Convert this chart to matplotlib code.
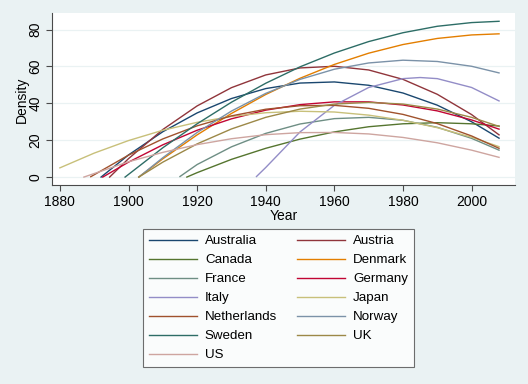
import matplotlib
matplotlib.use('Agg')
import matplotlib.pyplot as plt
from matplotlib.lines import Line2D

# quadratic-fit curves (year, density)
yr_australia = [1892, 1900, 1910, 1920, 1930, 1940, 1950, 1960, 1970, 1980, 1990, 2000, 2008]
d_australia = [0, 12, 24.6, 34.8, 42.6, 48, 51, 51.6, 49.8, 45.6, 39, 30, 21.1]

yr_austria = [1894.5, 1900, 1910, 1920, 1930, 1940, 1950, 1960, 1970, 1980, 1990, 2000, 2008]
d_austria = [0, 10, 25.8, 38.6, 48.5, 55.4, 59.2, 60.1, 58.1, 53, 44.9, 33.9, 22.9]

yr_canada = [1917, 1920, 1930, 1940, 1950, 1960, 1970, 1980, 1990, 2000, 2008]
d_canada = [0, 2.4, 9.6, 15.6, 20.6, 24.5, 27.3, 28.9, 29.5, 28.9, 27.7]

yr_denmark = [1903, 1910, 1920, 1930, 1940, 1950, 1960, 1970, 1980, 1990, 2000, 2008]
d_denmark = [0, 9.9, 22.9, 34.5, 44.8, 53.6, 61.1, 67.2, 71.9, 75.2, 77.1, 77.7]

yr_france = [1915, 1920, 1930, 1940, 1950, 1960, 1970, 1980, 1990, 2000, 2008]
d_france = [0.3, 6.8, 16.4, 23.7, 28.8, 31.7, 32.4, 30.8, 27, 21, 14.6]

yr_germany = [1892.5, 1900, 1910, 1920, 1930, 1940, 1950, 1960, 1970, 1980, 1990, 2000, 2008]
d_germany = [0, 8.1, 17.5, 25.4, 31.6, 36.3, 39.3, 40.8, 40.8, 39.1, 35.9, 31, 26]

yr_italy = [1937.3, 1940, 1950, 1960, 1970, 1980, 1985, 1990, 2000, 2008]
d_italy = [0.3, 5.2, 24.5, 38.9, 48.6, 53.4, 54, 53.4, 48.6, 41.3]

yr_japan = [1880, 1890, 1900, 1910, 1920, 1930, 1940, 1950, 1960, 1970, 1980, 1990, 2000, 2008]
d_japan = [5, 13, 19.8, 25.4, 29.7, 32.9, 34.9, 35.7, 35.3, 33.6, 30.8, 26.8, 21.6, 16.5]

yr_netherlands = [1889, 1900, 1910, 1920, 1930, 1940, 1950, 1960, 1970, 1980, 1990, 2000, 2008]
d_netherlands = [0.2, 11.9, 20.7, 27.8, 33.2, 36.8, 38.7, 38.9, 37.3, 34, 29, 22.3, 15.6]

yr_norway = [1903, 1910, 1920, 1930, 1940, 1950, 1960, 1970, 1980, 1990, 2000, 2008]
d_norway = [0, 10.5, 24.2, 35.8, 45.4, 53, 58.5, 61.9, 63.4, 62.7, 60.1, 56.5]

yr_sweden = [1899, 1910, 1920, 1930, 1940, 1950, 1960, 1970, 1980, 1990, 2000, 2008]
d_sweden = [0, 15.9, 28.9, 40.6, 50.9, 59.8, 67.3, 73.5, 78.3, 81.8, 83.8, 84.5]

yr_uk = [1903, 1910, 1920, 1930, 1940, 1950, 1960, 1970, 1980, 1990, 2000, 2008]
d_uk = [0, 8.1, 18, 26.1, 32.4, 36.9, 39.6, 40.5, 39.6, 36.9, 32.4, 27.5]

yr_us = [1887, 1900, 1910, 1920, 1930, 1940, 1950, 1960, 1970, 1980, 1990, 2000, 2008]
d_us = [0, 8.3, 13.4, 17.6, 20.8, 23, 24.1, 24.2, 23.4, 21.5, 18.6, 14.6, 10.7]

countries = ['Australia', 'Austria', 'Canada', 'Denmark', 'France', 'Germany', 'Italy',
             'Japan', 'Netherlands', 'Norway', 'Sweden', 'UK', 'US']
series = [(yr_australia, d_australia), (yr_austria, d_austria), (yr_canada, d_canada),
          (yr_denmark, d_denmark), (yr_france, d_france), (yr_germany, d_germany),
          (yr_italy, d_italy), (yr_japan, d_japan), (yr_netherlands, d_netherlands),
          (yr_norway, d_norway), (yr_sweden, d_sweden), (yr_uk, d_uk), (yr_us, d_us)]

# stata s2color palette
colors = ['#1a476f', '#90353b', '#55752f', '#e37e00', '#6e8e84', '#c10534', '#938dc7',
          '#c8c07a', '#a0522d', '#7b92a8', '#2d6d66', '#9c8847', '#cea5a0']

bg = '#eaf2f3'
plt.rcParams['font.family'] = ['Liberation Sans', 'DejaVu Sans']

fig = plt.figure(figsize=(5.28, 3.84), dpi=100, facecolor=bg)
ax = fig.add_axes([52 / 528, 1 - 185 / 384, 463 / 528, 172 / 384])
ax.set_facecolor('white')

handles = []
for (x, y), c, name in zip(series, colors, countries):
    ax.plot(x, y, color=c, lw=1.0, solid_joinstyle='round')
    handles.append(Line2D([], [], color=c, lw=1.0, label=name))

ax.set_xlim(1877.7, 2012.65)
ax.set_ylim(-4.3, 89)
ax.set_xticks([1880, 1900, 1920, 1940, 1960, 1980, 2000])
ax.set_yticks([0, 20, 40, 60, 80])
ax.grid(axis='y', color=bg, lw=0.9)
ax.set_axisbelow(True)
for s in ['top', 'right']:
    ax.spines[s].set_visible(False)
for s in ['left', 'bottom']:
    ax.spines[s].set_color('#4a4a4a')
    ax.spines[s].set_linewidth(0.8)
ax.tick_params(direction='out', length=4, width=0.8, color='#4a4a4a', labelsize=10)
ax.tick_params(axis='y', labelrotation=90, pad=3)
for lab in ax.get_yticklabels():
    lab.set_verticalalignment('center')
ax.tick_params(axis='x', pad=3)
ax.set_xlabel('Year', fontsize=10, labelpad=0)
fig.text(22 / 528, 1 - 100 / 384, 'Density', rotation=90, fontsize=10,
         ha='center', va='center')

# stata fills the legend row by row
order = [0, 2, 4, 6, 8, 10, 12, 1, 3, 5, 7, 9, 11]
leg = fig.legend([handles[i] for i in order], [countries[i] for i in order],
                 ncol=2, loc='upper center', bbox_to_anchor=(278.5 / 528, 1 - 229 / 384),
                 fontsize=9.6, frameon=True, fancybox=False, edgecolor='#4a4a4a',
                 handlelength=3.6, handletextpad=0.6, columnspacing=1.5,
                 labelspacing=0.5, borderpad=0.45, borderaxespad=0)
leg.get_frame().set_linewidth(0.8)

fig.savefig('out.png', dpi=100, facecolor=bg)
